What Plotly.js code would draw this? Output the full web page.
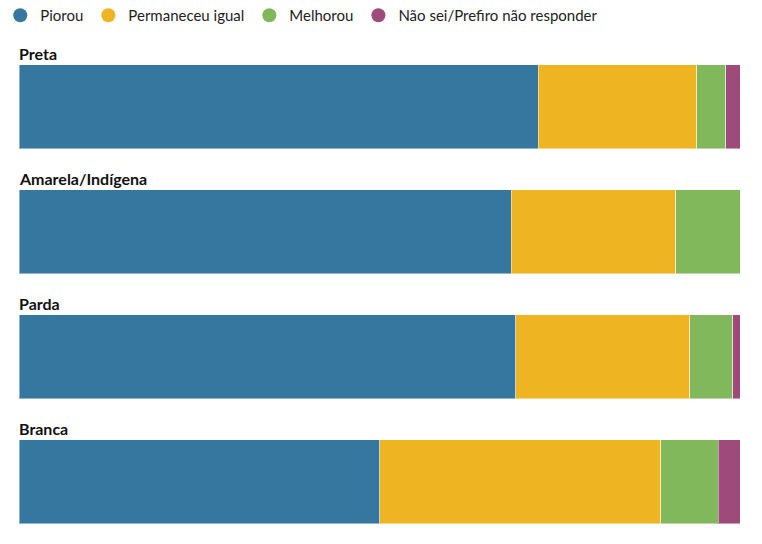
<!DOCTYPE html>
<html>
<head>
<meta charset="utf-8">
<script src="https://cdn.plot.ly/plotly-3.0.1.min.js"></script>
<style>
  html, body { margin: 0; padding: 0; background: #fff; }
  #chart { width: 762px; height: 544px; }
</style>
</head>
<body>
<div id="chart"></div>
<script>
// categorias (de cima para baixo)
var categorias = ['Preta', 'Amarela/Indígena', 'Parda', 'Branca'];

// percentuais por resposta
var piorou = [72.0, 68.3, 68.9, 50.0];
var permaneceu = [22.0, 22.8, 24.1, 39.0];
var melhorou = [4.0, 8.9, 6.0, 8.0];
var naoSei = [2.0, 0, 1.0, 3.0];

var series = [
    { name: 'Piorou', values: piorou, color: '#35779f' },
    { name: 'Permaneceu igual', values: permaneceu, color: '#eeb421' },
    { name: 'Melhorou', values: melhorou, color: '#81b85c' },
    { name: 'Não sei/Prefiro não responder', values: naoSei, color: '#9e4a7b' }
];

var fonte = '"Source Sans Pro", Lato, "Open Sans", sans-serif';

var data = [];
series.forEach(function (s) {
    data.push({
        type: 'bar',
        orientation: 'h',
        x: s.values,
        y: categorias,
        name: s.name,
        width: 0.672,
        marker: { color: s.color, line: { color: 'rgba(255,255,255,0.45)', width: 1 } },
        showlegend: false,
        hoverinfo: 'x+name'
    });
});
// legenda com círculos
series.forEach(function (s) {
    data.push({
        type: 'scatter',
        mode: 'markers',
        x: [null],
        y: [null],
        name: s.name,
        marker: { color: s.color, size: 14, symbol: 'circle' },
        showlegend: true,
        hoverinfo: 'skip'
    });
});

var annotations = categorias.map(function (c) {
    return {
        text: '<b>' + c + '</b>',
        x: 0, xref: 'paper', xanchor: 'left',
        y: c, yref: 'y', yanchor: 'bottom',
        xshift: -2,
        yshift: 42,
        showarrow: false,
        font: { size: 16, color: '#111', family: fonte }
    };
});

var layout = {
    width: 762,
    height: 544,
    barmode: 'stack',
    margin: { l: 19, r: 22, t: 44, b: 0, autoexpand: false },
    paper_bgcolor: '#fff',
    plot_bgcolor: '#fff',
    font: { family: fonte, size: 15, color: '#222' },
    showlegend: true,
    legend: {
        orientation: 'h',
        traceorder: 'normal',
        x: -0.026, xanchor: 'left',
        y: 1.024, yanchor: 'bottom',
        font: { size: 15, color: '#222' },
        itemclick: false,
        tracegroupgap: 0
    },
    xaxis: {
        range: [0, 100],
        showgrid: false, zeroline: false, showticklabels: false, showline: false,
        fixedrange: true
    },
    yaxis: {
        type: 'category',
        categoryorder: 'array',
        categoryarray: categorias,
        range: [3.5, -0.5],
        showgrid: false, zeroline: false, showticklabels: false, showline: false,
        fixedrange: true
    },
    annotations: annotations
};

Plotly.newPlot('chart', data, layout, { displayModeBar: false, staticPlot: true });
</script>
</body>
</html>
